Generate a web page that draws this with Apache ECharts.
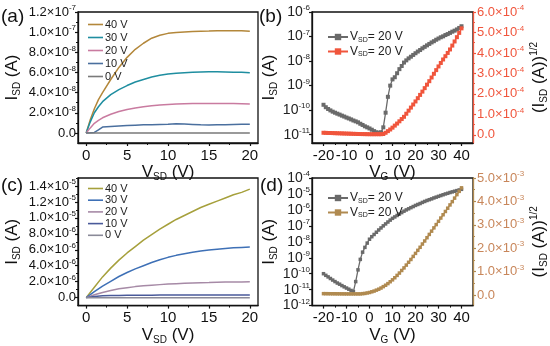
<!DOCTYPE html>
<html><head><meta charset="utf-8">
<script src="https://cdn.jsdelivr.net/npm/echarts@6/dist/echarts.min.js"></script>
<style>html,body{margin:0;padding:0;background:#fff}#c{width:550px;height:346px}</style>
</head><body><div id="c"></div>
<script>
// ---------- DATA ----------
// (a) output curves, I_SD (A) vs V_SD (V)
const vsdA = [0,0.5,1,1.5,2,3,4,5,6,7,8,9,10,11,12,13,14,15,16,17,18,19,20];
const a40 = [0,1.3e-8,2.4e-8,3.3e-8,4.0e-8,5.3e-8,6.5e-8,7.5e-8,8.3e-8,8.9e-8,9.4e-8,9.7e-8,9.88e-8,9.97e-8,1.002e-7,1.006e-7,1.01e-7,1.012e-7,1.015e-7,1.015e-7,1.015e-7,1.013e-7,1.01e-7];
const a30 = [0,1.1e-8,2.0e-8,2.6e-8,3.1e-8,3.8e-8,4.3e-8,4.7e-8,5.05e-8,5.3e-8,5.55e-8,5.73e-8,5.85e-8,5.93e-8,5.98e-8,6.02e-8,6.05e-8,6.07e-8,6.07e-8,6.05e-8,6.03e-8,6.01e-8,5.98e-8];
const a20 = [0,0.5e-8,0.95e-8,1.25e-8,1.5e-8,1.85e-8,2.12e-8,2.32e-8,2.47e-8,2.6e-8,2.7e-8,2.77e-8,2.83e-8,2.87e-8,2.9e-8,2.92e-8,2.93e-8,2.93e-8,2.93e-8,2.92e-8,2.91e-8,2.9e-8,2.88e-8];
const a10 = [0,0.02e-8,0.05e-8,0.3e-8,0.58e-8,0.64e-8,0.69e-8,0.73e-8,0.77e-8,0.8e-8,0.82e-8,0.84e-8,0.85e-8,0.9e-8,0.88e-8,0.84e-8,0.8e-8,0.78e-8,0.8e-8,0.82e-8,0.84e-8,0.85e-8,0.86e-8];
const a0  = [0,0,0,0,0,0,0,0,0,0,0,0,0,0,0,0,0,0,0,0,0,0,0];
const yTicksA = [0,2e-8,4e-8,6e-8,8e-8,1e-7,1.2e-7];
const yMinorA = [1e-8,3e-8,5e-8,7e-8,9e-8,1.1e-7];

// (c) output curves
const vsdC = [0,1,2,3,4,5,6,7,8,9,10,11,12,13,14,15,16,17,18,19,20];
const c40 = [0,1.3e-6,2.6e-6,3.7e-6,4.7e-6,5.6e-6,6.4e-6,7.2e-6,7.9e-6,8.6e-6,9.2e-6,9.8e-6,1.03e-5,1.08e-5,1.13e-5,1.17e-5,1.21e-5,1.25e-5,1.29e-5,1.32e-5,1.36e-5];
const c30 = [0,0.75e-6,1.45e-6,2.05e-6,2.65e-6,3.15e-6,3.6e-6,4.0e-6,4.4e-6,4.75e-6,5.05e-6,5.3e-6,5.5e-6,5.7e-6,5.85e-6,5.98e-6,6.08e-6,6.17e-6,6.24e-6,6.3e-6,6.35e-6];
const c20 = [0,0.35e-6,0.65e-6,0.9e-6,1.1e-6,1.25e-6,1.38e-6,1.48e-6,1.56e-6,1.63e-6,1.7e-6,1.75e-6,1.8e-6,1.84e-6,1.88e-6,1.9e-6,1.93e-6,1.95e-6,1.96e-6,1.97e-6,1.98e-6];
const c10 = [0,0.15e-6,0.22e-6,0.26e-6,0.28e-6,0.3e-6,0.3e-6,0.31e-6,0.31e-6,0.32e-6,0.32e-6,0.32e-6,0.33e-6,0.33e-6,0.33e-6,0.33e-6,0.34e-6,0.34e-6,0.34e-6,0.34e-6,0.34e-6];
const c0  = [0,0,0,0,0,0,0,0,0,0,0,0,0,0,0,0,0,0,0,0,0];
const yTicksC = [0,2e-6,4e-6,6e-6,8e-6,1e-5,1.2e-5,1.4e-5];
const yMinorC = [1e-6,3e-6,5e-6,7e-6,9e-6,1.1e-5,1.3e-5,1.5e-5];
const xTicksAC = [0,5,10,15,20];
const xMinorAC = [2.5,7.5,12.5,17.5];

// (b),(d) transfer curves, V_G from -20 to 40 V
const vg = [-20,-19,-18,-17,-16,-15,-14,-13,-12,-11,-10,-9,-8,-7,-6,-5,-4,-3,-2,-1,0,1,2,3,4,5,6,7,8,9,10,11,12,13,14,15,16,17,18,19,20,21,22,23,24,25,26,27,28,29,30,31,32,33,34,35,36,37,38,39,40];
const bLog = [1.66e-10,1.32e-10,1.12e-10,9.8e-11,8.7e-11,7.9e-11,7.2e-11,6.6e-11,6.0e-11,5.5e-11,5.0e-11,4.6e-11,4.2e-11,3.8e-11,3.5e-11,3.2e-11,2.8e-11,2.5e-11,2.2e-11,2.0e-11,1.8e-11,1.6e-11,1.4e-11,1.26e-11,1.2e-11,1.26e-11,2.0e-11,7.9e-11,3.5e-10,1.0e-9,1.8e-9,2.2e-9,3.2e-9,4.7e-9,6.3e-9,8.7e-9,1.07e-8,1.29e-8,1.51e-8,1.78e-8,2.09e-8,2.45e-8,2.82e-8,3.31e-8,3.8e-8,4.37e-8,5.0e-8,5.75e-8,6.46e-8,7.41e-8,8.32e-8,9.33e-8,1.02e-7,1.15e-7,1.26e-7,1.41e-7,1.58e-7,1.74e-7,1.95e-7,2.24e-7,2.63e-7];
const bSqrt = [0.1e-4,0.095e-4,0.09e-4,0.088e-4,0.085e-4,0.08e-4,0.076e-4,0.072e-4,0.068e-4,0.064e-4,0.06e-4,0.056e-4,0.052e-4,0.048e-4,0.044e-4,0.04e-4,0.038e-4,0.036e-4,0.034e-4,0.032e-4,0.03e-4,0.03e-4,0.03e-4,0.03e-4,0.03e-4,0.03e-4,0.04e-4,0.1e-4,0.18e-4,0.26e-4,0.35e-4,0.45e-4,0.55e-4,0.66e-4,0.77e-4,0.88e-4,1.03e-4,1.18e-4,1.33e-4,1.48e-4,1.63e-4,1.79e-4,1.95e-4,2.11e-4,2.28e-4,2.45e-4,2.62e-4,2.8e-4,2.98e-4,3.16e-4,3.34e-4,3.51e-4,3.68e-4,3.84e-4,4.0e-4,4.17e-4,4.36e-4,4.56e-4,4.77e-4,4.98e-4,5.2e-4];
const dLog = [1.0e-10,7.9e-11,6.3e-11,5.0e-11,4.0e-11,3.2e-11,2.6e-11,2.2e-11,1.8e-11,1.5e-11,1.26e-11,1.07e-11,8.9e-12,7.6e-12,3.2e-11,1.74e-10,7.9e-10,2.24e-9,4.47e-9,8.3e-9,1.45e-8,2.09e-8,2.88e-8,3.98e-8,5.5e-8,7.41e-8,1.0e-7,1.32e-7,1.74e-7,2.29e-7,2.95e-7,3.63e-7,4.47e-7,5.5e-7,6.76e-7,8.3e-7,1.0e-6,1.17e-6,1.38e-6,1.62e-6,1.91e-6,2.19e-6,2.51e-6,2.95e-6,3.39e-6,3.89e-6,4.37e-6,4.9e-6,5.62e-6,6.31e-6,7.08e-6,7.94e-6,8.91e-6,1.0e-5,1.1e-5,1.23e-5,1.35e-5,1.48e-5,1.62e-5,1.78e-5,1.95e-5];
const dSqrt = [0.06e-3,0.06e-3,0.058e-3,0.057e-3,0.056e-3,0.055e-3,0.054e-3,0.053e-3,0.052e-3,0.051e-3,0.05e-3,0.05e-3,0.05e-3,0.05e-3,0.05e-3,0.05e-3,0.05e-3,0.06e-3,0.07e-3,0.09e-3,0.11e-3,0.14e-3,0.17e-3,0.21e-3,0.25e-3,0.3e-3,0.36e-3,0.42e-3,0.49e-3,0.57e-3,0.65e-3,0.74e-3,0.84e-3,0.94e-3,1.05e-3,1.16e-3,1.28e-3,1.4e-3,1.52e-3,1.65e-3,1.78e-3,1.91e-3,2.04e-3,2.18e-3,2.31e-3,2.45e-3,2.59e-3,2.73e-3,2.87e-3,3.01e-3,3.15e-3,3.29e-3,3.43e-3,3.57e-3,3.71e-3,3.85e-3,3.99e-3,4.14e-3,4.29e-3,4.43e-3,4.58e-3];
const xTicksBD = [-20,-10,0,10,20,30,40];
const xMinorBD = [-15,-5,5,15,25,35];
const yTicksBR = [0,1e-4,2e-4,3e-4,4e-4,5e-4,6e-4];
const yMinorBR = [0.5e-4,1.5e-4,2.5e-4,3.5e-4,4.5e-4,5.5e-4];
const yTicksDR = [0,1e-3,2e-3,3e-3,4e-3,5e-3];
const yMinorDR = [0.5e-3,1.5e-3,2.5e-3,3.5e-3,4.5e-3];

// ---------- CHART ----------
const FONT = 'Arial, "Liberation Sans", sans-serif';
const zip = (xs, ys) => xs.map((x, i) => [x, ys[i]]);

function sci(v) {
  if (Math.abs(v) < 1e-20) return '{m|0.0}';
  const e = Math.floor(Math.log10(Math.abs(v)) + 1e-9);
  const m = v / Math.pow(10, e);
  return '{m|' + m.toFixed(1) + '×10}{e|' + e + '}';
}
function pw(v) { return '{m|10}{e|' + Math.round(Math.log10(v)) + '}'; }
function richNum(color, fs) {
  return {
    m: {fontSize: fs, color: color, fontFamily: FONT, lineHeight: 16},
    e: {fontSize: 8, color: color, fontFamily: FONT, lineHeight: 9, verticalAlign: 'top'}
  };
}
function richTitle(color) {
  return {
    i: {fontSize: 17, color: color, fontFamily: FONT, lineHeight: 20},
    s: {fontSize: 10, color: color, fontFamily: FONT, lineHeight: 10, verticalAlign: 'bottom'},
    p: {fontSize: 10, color: color, fontFamily: FONT, lineHeight: 10, verticalAlign: 'top'}
  };
}
const BLACK = '#111';
function mainX(grid, min, max, ticks, name, gap) {
  return {
    type: 'value', gridIndex: grid, min: min, max: max, position: 'bottom',
    axisLine: {show: true, onZero: false, lineStyle: {color: BLACK, width: 1.3}},
    axisTick: {show: true, length: 3, customValues: ticks, lineStyle: {color: BLACK, width: 1.2}},
    axisLabel: {show: true, customValues: ticks, margin: 5, fontSize: 15, color: BLACK, fontFamily: FONT},
    splitLine: {show: false},
    name: name, nameLocation: 'middle', nameGap: gap,
    nameTextStyle: {rich: richTitle(BLACK)}
  };
}
function minorX(grid, min, max, ticks) {
  return {
    type: 'value', gridIndex: grid, min: min, max: max, position: 'bottom',
    axisLine: {show: false, onZero: false}, axisLabel: {show: false}, splitLine: {show: false},
    axisTick: {show: true, length: 2, customValues: ticks, lineStyle: {color: BLACK, width: 1}}
  };
}
function mainY(grid, min, max, ticks, name, gap, pos, color, lineColor) {
  return {
    type: 'value', gridIndex: grid, min: min, max: max, position: pos || 'left',
    axisLine: {show: true, onZero: false, lineStyle: {color: lineColor || BLACK, width: 1.3}},
    axisTick: {show: true, length: 3, customValues: ticks, lineStyle: {color: lineColor || BLACK, width: 1.2}},
    axisLabel: {show: true, customValues: ticks, margin: pos === 'right' ? 4 : 2, formatter: sci, rich: richNum(color || BLACK, 13)},
    splitLine: {show: false},
    name: name, nameLocation: 'middle', nameGap: gap, nameRotate: 90,
    nameTextStyle: {rich: richTitle(BLACK)}
  };
}
function minorY(grid, min, max, ticks, pos, lineColor) {
  return {
    type: 'value', gridIndex: grid, min: min, max: max, position: pos || 'left',
    axisLine: {show: false, onZero: false}, axisLabel: {show: false}, splitLine: {show: false},
    axisTick: {show: true, length: 2, customValues: ticks, lineStyle: {color: lineColor || BLACK, width: 1}}
  };
}
function logY(grid, min, max, name, gap, showMin) {
  return {
    type: 'log', logBase: 10, gridIndex: grid, min: min, max: max, position: 'left',
    axisLine: {show: true, onZero: false, lineStyle: {color: BLACK, width: 1.3}},
    axisTick: {show: true, length: 3, lineStyle: {color: BLACK, width: 1.2}},
    axisLabel: {show: true, margin: 2, showMinLabel: showMin, formatter: pw, rich: richNum('#222', 14)},
    splitLine: {show: false}, minorTick: {show: false},
    name: name, nameLocation: 'middle', nameGap: gap, nameRotate: 90,
    nameTextStyle: {rich: richTitle(BLACK)}
  };
}
const xName = '{i|V}{s|SD}{i| (V)}';
const gName = '{i|V}{s|G}{i| (V)}';
const iName = '{i|I}{s|SD}{i| (A)}';
const sqName = '{i|(I}{s|SD}{i| (A))}{p|1/2}';

const grids = [
  {left: 78, top: 12, width: 180, height: 131},
  {left: 312, top: 12, width: 164, height: 131},
  {left: 78, top: 178, width: 180, height: 132},
  {left: 312, top: 178, width: 164, height: 132}
].map(g => Object.assign(g, {show: true, borderColor: BLACK, borderWidth: 1.3, backgroundColor: 'transparent'}));

const xAxes = [
  mainX(0, -1, 21, xTicksAC, xName, 12), minorX(0, -1, 21, xMinorAC),
  mainX(1, -25, 45, xTicksBD, gName, 12), minorX(1, -25, 45, xMinorBD),
  mainX(2, -1, 21, xTicksAC, xName, 12), minorX(2, -1, 21, xMinorAC),
  mainX(3, -25, 45, xTicksBD, gName, 12), minorX(3, -25, 45, xMinorBD)
];
const RED = '#f0553c', TAN = '#b08a50', TANL = '#c8865a', GRAY = '#6a6a6a';
const yAxes = [
  mainY(0, -1e-8, 1.2e-7, yTicksA, iName, 56), minorY(0, -1e-8, 1.2e-7, yMinorA),
  logY(1, 4.6e-12, 1e-6, iName, 26, false),
  mainY(1, -0.4e-4, 6e-4, yTicksBR, sqName, 56, 'right', RED, RED), minorY(1, -0.4e-4, 6e-4, yMinorBR, 'right', RED),
  mainY(2, -1e-6, 1.5e-5, yTicksC, iName, 56), minorY(2, -1e-6, 1.5e-5, yMinorC),
  logY(3, 1e-12, 1e-4, iName, 26, true),
  mainY(3, -0.45e-3, 5e-3, yTicksDR, sqName, 56, 'right', TANL, TAN), minorY(3, -0.45e-3, 5e-3, yMinorDR, 'right', TAN)
];

function outLine(name, xi, yi, xs, ys, color) {
  return {name: name, type: 'line', xAxisIndex: xi, yAxisIndex: yi, data: zip(xs, ys),
    symbol: 'none', showSymbol: false, color: color, lineStyle: {color: color, width: 1.5}, z: 3};
}
function trLine(name, xi, yi, xs, ys, color, size) {
  return {name: name, type: 'line', xAxisIndex: xi, yAxisIndex: yi, data: zip(xs, ys),
    symbol: 'rect', symbolSize: size, showSymbol: true, color: color,
    itemStyle: {color: color}, lineStyle: {color: color, width: 1.3}, z: 3};
}
const series = [
  outLine('a40', 0, 0, vsdA, a40, '#b3873a'),
  outLine('a30', 0, 0, vsdA, a30, '#1f8ea0'),
  outLine('a20', 0, 0, vsdA, a20, '#c97ba0'),
  outLine('a10', 0, 0, vsdA, a10, '#4a6f9e'),
  outLine('a0', 0, 0, vsdA, a0, '#7a7a7a'),
  trLine('bG', 2, 2, vg, bLog, GRAY, 4),
  trLine('bR', 2, 3, vg, bSqrt, RED, 4),
  outLine('c40', 4, 5, vsdC, c40, '#a6a03c'),
  outLine('c30', 4, 5, vsdC, c30, '#3e70b6'),
  outLine('c20', 4, 5, vsdC, c20, '#a68aa6'),
  outLine('c10', 4, 5, vsdC, c10, '#4a5a9a'),
  outLine('c0', 4, 5, vsdC, c0, '#8a8a98'),
  trLine('dG', 6, 7, vg, dLog, GRAY, 3.5),
  trLine('dT', 6, 8, vg, dSqrt, TAN, 3.5)
];
const vLab = n => n.replace(/^[ac]/, '') + ' V';
function outLegend(left, top, names, gap) {
  return {left: left, top: top, orient: 'vertical', itemWidth: 15, itemHeight: 1.6, itemGap: gap,
    icon: 'rect', data: names, formatter: vLab, selectedMode: false,
    textStyle: {fontSize: 11, color: '#222', fontFamily: FONT, lineHeight: 10, padding: [0, 0, 0, -3]}};
}
function trLegend(left, top, names) {
  return {left: left, top: top, orient: 'vertical', itemWidth: 20, itemHeight: 8, itemGap: 2,
    data: names, selectedMode: false,
    formatter: () => '{n|V}{s|SD}{n|= 20 V}',
    textStyle: {rich: {
      n: {fontSize: 12, color: '#222', fontFamily: FONT, lineHeight: 13},
      s: {fontSize: 7, color: '#222', fontFamily: FONT, lineHeight: 7, verticalAlign: 'bottom'}
    }, padding: [0, 0, 0, -3]}};
}
const legends = [
  outLegend(83, 14, ['a40','a30','a20','a10','a0'], 2),
  trLegend(322, 26, ['bG','bR']),
  outLegend(83, 178, ['c40','c30','c20','c10','c0'], 0.7),
  trLegend(322, 187, ['dG','dT'])
];
const panelLabels = [['(a)', 1, 7], ['(b)', 259, 7], ['(c)', 1, 176], ['(d)', 260, 176]].map(p => ({
  type: 'text', left: p[1], top: p[2], z: 10,
  style: {text: p[0], fontSize: 19, fontFamily: FONT, fill: BLACK}
}));

const chart = echarts.init(document.getElementById('c'), null, {renderer: 'canvas'});
chart.setOption({
  animation: false,
  backgroundColor: '#fff',
  grid: grids, xAxis: xAxes, yAxis: yAxes, series: series, legend: legends,
  graphic: panelLabels
});
</script></body></html>
